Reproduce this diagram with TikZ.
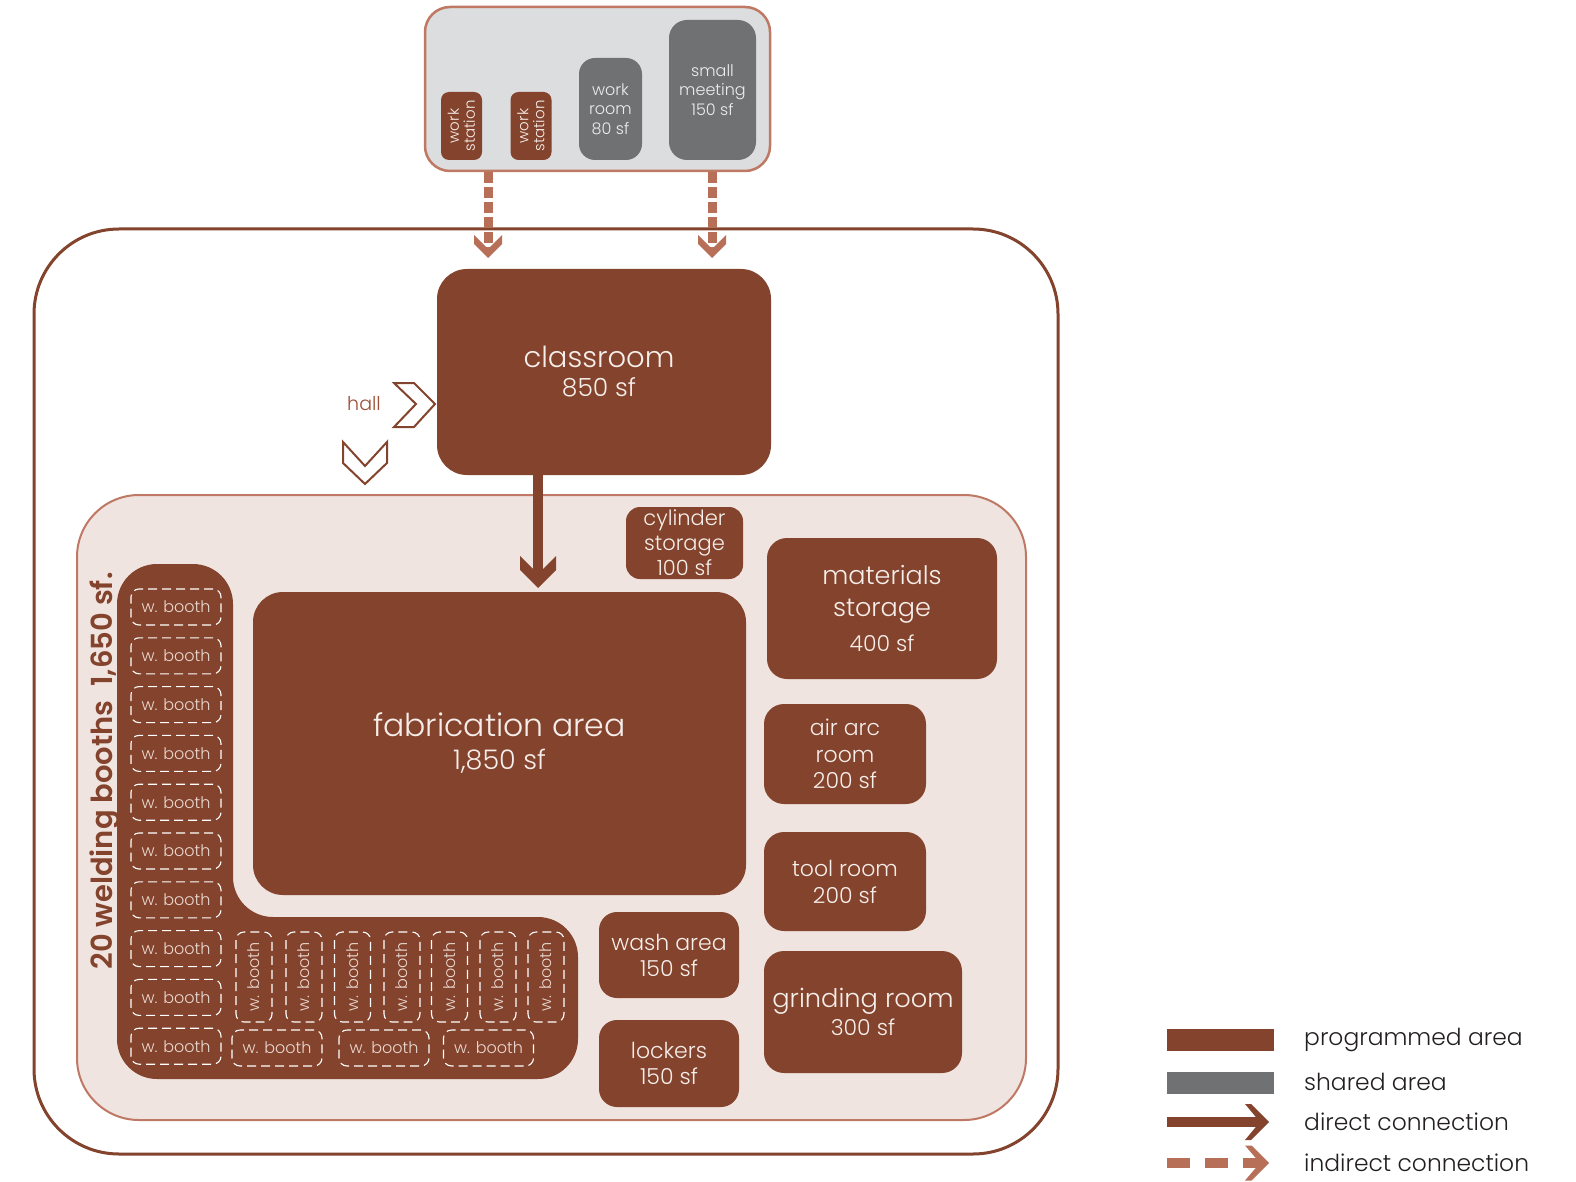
\documentclass[tikz,border=0pt]{standalone}
\usepackage{fontspec}
\setmainfont{Poppins}[UprightFont=* Light, BoldFont=* SemiBold]
\usetikzlibrary{arrows.meta}
\definecolor{brn}{HTML}{84432D}
\definecolor{shgray}{HTML}{707173}
\definecolor{ltgray}{HTML}{DCDDDE}
\definecolor{pinkbg}{HTML}{F0E4E0}
\definecolor{salmon}{HTML}{BE7863}
\definecolor{dasharr}{HTML}{B86F58}
\definecolor{roomtxt}{HTML}{F6EEEA}
\definecolor{sharedtxt}{HTML}{EDEDED}
\definecolor{boothtxt}{HTML}{EAD9D1}
\definecolor{legtxt}{HTML}{231F20}
\definecolor{halltxt}{HTML}{9B4E35}
\newcommand\fsz[2]{\fontsize{#1}{#2}\selectfont}
\pgfdeclarearrow{
  name = Chev,
  defaults = {length=32pt, width=36pt, inset=14pt},
  parameters = {\the\pgfarrowlength,\the\pgfarrowwidth,\the\pgfarrowinset},
  setup code = {
    \pgfarrowssettipend{0pt}
    \pgfarrowssetbackend{-\pgfarrowlength}
    \pgfarrowssetlineend{-\pgfarrowinset}
    \pgfarrowssavethe\pgfarrowlength
    \pgfarrowssavethe\pgfarrowwidth
    \pgfarrowssavethe\pgfarrowinset
    \pgfarrowshullpoint{0pt}{0pt}
    \pgfarrowsupperhullpoint{-\pgfarrowlength}{.5\pgfarrowwidth}
  },
  drawing code = {
    \pgfpathmoveto{\pgfqpoint{0pt}{0pt}}
    \pgfpathlineto{\pgfqpoint{-.5\pgfarrowwidth}{.5\pgfarrowwidth}}
    \pgfpathlineto{\pgfqpoint{-\pgfarrowlength}{.5\pgfarrowwidth}}
    \pgfpathlineto{\pgfqpoint{-\pgfarrowinset}{0pt}}
    \pgfpathlineto{\pgfqpoint{-\pgfarrowlength}{-.5\pgfarrowwidth}}
    \pgfpathlineto{\pgfqpoint{-.5\pgfarrowwidth}{-.5\pgfarrowwidth}}
    \pgfpathclose
    \pgfusepathqfill
  }
}
\begin{document}
\begin{tikzpicture}[x=1pt,y=-1pt,
  room/.style={fill=brn, text=roomtxt, align=center, inner sep=0pt, rounded corners=#1},
  room/.default=18pt,
  shared/.style={fill=shgray, text=sharedtxt, align=center, inner sep=0pt, rounded corners=#1},
  shared/.default=16pt,
  booth/.style={draw=white, dash pattern=on 9pt off 5pt, line width=1.1pt, rounded corners=8pt,
    minimum width=90pt, minimum height=36pt, inner sep=0pt, text=boothtxt, font=\fsz{16}{18}},
  direct/.style={color=brn, line width=10pt, -{Chev[length=32pt,width=36pt,inset=14pt]}},
  indirect/.style={color=dasharr, line width=9pt, dash pattern=on 11pt off 4pt,
    -{Chev[length=23pt,width=28pt,inset=9pt]}},
  legdirect/.style={color=brn, line width=10pt, -{Chev[length=24pt,width=36pt,inset=9pt]}},
  legindirect/.style={color=dasharr, line width=10pt, dash pattern=on 23pt off 15pt,
    -{Chev[length=24pt,width=35pt,inset=9pt]}},
  legtext/.style={anchor=west, text=legtxt, font=\fsz{23.4}{26}, inner sep=0pt},
  chev/.style={draw=brn, line width=2pt, fill=white, line join=miter},
]
\useasboundingbox (0,0) rectangle (1576,1182);
\fill[white] (0,0) rectangle (1576,1182);

% outer and inner regions
\node[draw=brn, line width=3pt, rounded corners=85pt, minimum width=1024pt, minimum height=925pt, inner sep=0pt] (outer) at (546,691.5) {};
\node[draw=salmon, fill=pinkbg, line width=2pt, rounded corners=62pt, minimum width=949pt, minimum height=625pt, inner sep=0pt] (shop) at (551.5,807.5) {};

% top shared box
\node[draw=salmon, fill=ltgray, line width=2.5pt, rounded corners=25pt, minimum width=345pt, minimum height=164pt, inner sep=0pt] (topbox) at (597.5,89) {};
\node[room=8pt, rotate=90, minimum width=68pt, minimum height=41pt, font=\fsz{15}{16}] (ws1) at (461.5,126) {work\\station};
\node[room=8pt, rotate=90, minimum width=68pt, minimum height=41pt, font=\fsz{15}{16}] (ws2) at (531,126) {work\\station};
\node[shared=16pt, minimum width=63pt, minimum height=102pt, font=\fsz{16}{19.5}] (workroom) at (610.5,109) {work\\room\\80 sf};
\node[shared=18pt, minimum width=87pt, minimum height=140pt, font=\fsz{16}{19.5}] (meeting) at (712.5,90) {small\\meeting\\150 sf};

% classroom
\node[room=30pt, minimum width=334pt, minimum height=206pt, font=\fsz{25}{29}] (classroom) at (604,372) {{\fsz{29}{29}classroom}\hspace*{10pt}\\850 sf\hspace*{10pt}};

% hall
\node[text=halltxt, font=\fsz{19}{20}, inner sep=0pt] (hall) at (364,404) {hall};
\draw[chev] (394,383) -- (414,383) -- (435,404) -- (414,427) -- (394,427) -- (416,404) -- cycle;
\draw[chev] (343,442) -- (365,466) -- (387,442) -- (387,463) -- (365,484) -- (343,463) -- cycle;

% rooms in shop
\node[room=30pt, minimum width=493pt, minimum height=303pt, font=\fsz{27}{33}] (fab) at (499.5,743.5) {{\fsz{31.5}{33}fabrication area}\\1,850 sf};
\node[room=14pt, minimum width=117pt, minimum height=72pt, font=\fsz{21}{25}] (cyl) at (684.5,543) {cylinder\\storage\\100 sf};
\node[room=20pt, minimum width=230pt, minimum height=141pt, font=\fsz{25.5}{32}] (mat) at (882,608.5) {materials\\storage\\[3pt]{\fsz{22}{32}400 sf}};
\node[room=20pt, minimum width=162pt, minimum height=100pt, font=\fsz{22}{26.5}] (airarc) at (845,754) {air arc\\room\\200 sf};
\node[room=20pt, minimum width=162pt, minimum height=99pt, font=\fsz{22}{27}] (tool) at (845,881.5) {tool room\\200 sf};
\node[room=20pt, minimum width=198pt, minimum height=122pt, font=\fsz{22}{28}] (grind) at (863,1012) {{\fsz{25.7}{28}grinding room}\\300 sf};
\node[room=18pt, minimum width=140pt, minimum height=86pt, font=\fsz{22}{26}] (wash) at (669,955) {wash area\\150 sf};
\node[room=18pt, minimum width=140pt, minimum height=87pt, font=\fsz{22}{26}] (lockers) at (669,1063.5) {lockers\\150 sf};

% welding booths area
\fill[brn, rounded corners=40pt] (350,1079) -- (117,1079) -- (117,564) -- (233,564) -- (233,917) -- (578,917) -- (578,1079) -- cycle;
\foreach \i in {0,...,9} {
  \node[booth] (bl\i) at (176,{607+48.8*\i}) {w. booth};
}
\foreach \x [count=\j] in {254,304,352.5,402,449.5,498,546} {
  \node[booth, rotate=90] (bv\j) at (\x,977) {w. booth};
}
\foreach \x [count=\j] in {277,384,488.5} {
  \node[booth] (bh\j) at (\x,1048) {w. booth};
}
\node[rotate=90, text=brn, font=\bfseries\fsz{29}{30}, inner sep=0pt] (weldlabel) at (105,771) {20 welding booths\hspace{14pt}1,650 sf.};

% connectors
\coordinate (d1) at (488,258);
\coordinate (d2) at (712,258);
\draw[indirect] (topbox.south -| d1) -- (d1);
\draw[indirect] (topbox.south -| d2) -- (d2);
\coordinate (dtip) at (538,588);
\draw[direct] (classroom.south -| dtip) -- (dtip);

% legend
\node[fill=brn, minimum width=107pt, minimum height=22pt, inner sep=0pt] (lg1) at (1220.5,1040) {};
\node[fill=shgray, minimum width=107pt, minimum height=22pt, inner sep=0pt] (lg2) at (1220.5,1082.5) {};
\coordinate (la1) at (1167,1122);
\coordinate (lb1) at (1269,1122);
\coordinate (la2) at (1167,1163);
\coordinate (lb2) at (1269,1163);
\draw[legdirect] (la1) -- (lb1);
\draw[legindirect] (la2) -- (lb2);
\node[legtext] (lt1) at (1304,1040) {programmed area};
\node[legtext] (lt2) at (1304,1082) {shared area};
\node[legtext] (lt3) at (1304,1122) {direct connection};
\node[legtext] (lt4) at (1304,1163) {indirect connection};
\end{tikzpicture}
\end{document}
